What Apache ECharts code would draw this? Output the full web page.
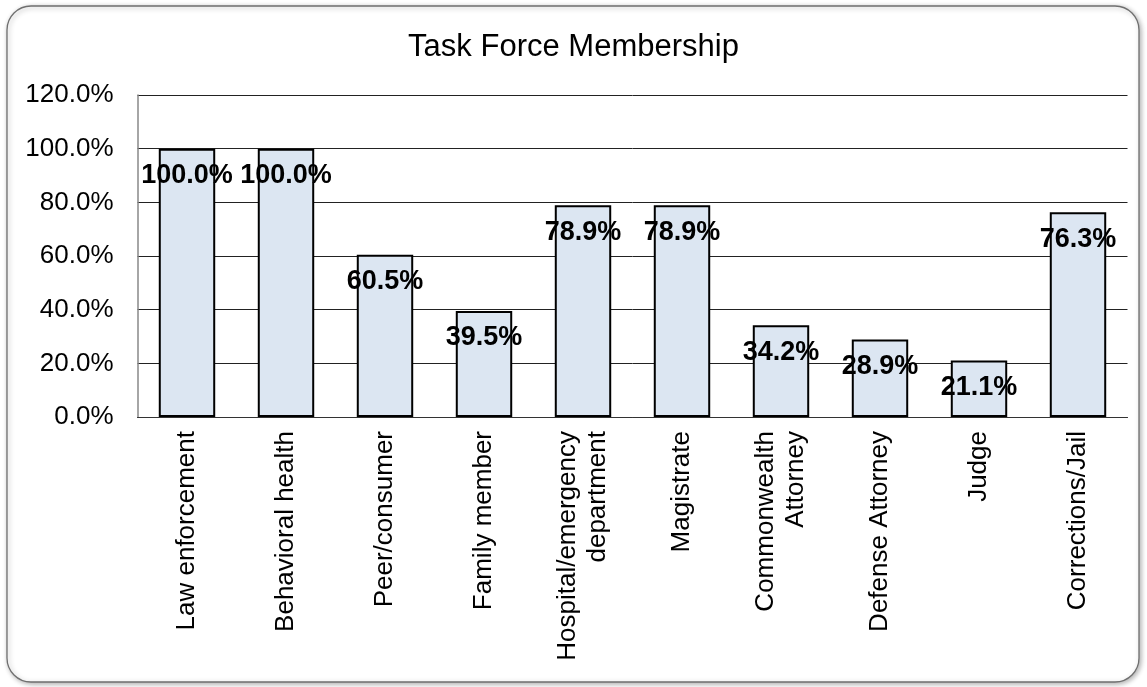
<!DOCTYPE html>
<html>
<head>
<meta charset="utf-8">
<script src="https://cdn.jsdelivr.net/npm/echarts@6/dist/echarts.min.js"></script>
<style>
html,body{margin:0;padding:0;background:#fff;}
#c{width:1147px;height:687px;}
</style>
</head>
<body>
<div id="c"></div>
<script>
const titleText = 'Task Force Membership';
const categories = ['Law enforcement','Behavioral health','Peer/consumer','Family member','Hospital/emergency\ndepartment','Magistrate','Commonwealth\nAttorney','Defense Attorney','Judge','Corrections/Jail'];
const values = [100.0, 100.0, 60.5, 39.5, 78.9, 78.9, 34.2, 28.9, 21.1, 76.3];
const yTicks = [0, 20, 40, 60, 80, 100, 120];

const chart = echarts.init(document.getElementById('c'), null, {renderer:'canvas'});
const font = '"Liberation Sans", Arial, sans-serif';
chart.setOption({
  backgroundColor:'#fff',
  animation:false,
  textStyle:{fontFamily:font},
  graphic:[{
    type:'rect', silent:true, z:-10,
    shape:{x:7, y:6, width:1132, height:676, r:24},
    style:{fill:'#fff', stroke:'#6f6f6f', lineWidth:1.3, shadowBlur:5, shadowColor:'rgba(0,0,0,0.3)', shadowOffsetX:1.5, shadowOffsetY:1.5}
  }],
  title:{text:titleText, left:'center', top:27, textStyle:{fontFamily:font, fontSize:31, fontWeight:'normal', color:'#000'}},
  grid:{left:137.5, right:19.5, top:95, bottom:270, containLabel:false},
  xAxis:{
    type:'category', data:categories,
    axisLine:{show:true, lineStyle:{color:'#333', width:1}},
    axisTick:{show:false},
    axisLabel:{rotate:90, interval:0, margin:14, fontFamily:font, fontSize:26, color:'#000', lineHeight:30}
  },
  yAxis:{
    type:'value', min:yTicks[0], max:yTicks[yTicks.length-1], interval:20,
    axisLine:{show:true, lineStyle:{color:'#888', width:1.5}},
    axisTick:{show:false},
    splitLine:{show:true, lineStyle:{color:'#222', width:1}},
    axisLabel:{margin:24, fontFamily:font, fontSize:26, color:'#000', formatter:v=>v.toFixed(1)+'%'}
  },
  series:[{
    type:'bar', data:values, barWidth:'57%',
    itemStyle:{color:'#dce6f2', borderColor:'#000', borderWidth:2},
    label:{show:true, position:['50%',27], align:'center', verticalAlign:'middle', fontFamily:font, fontSize:27, fontWeight:'bold', color:'#000', formatter:p=>p.value.toFixed(1)+'%'}
  }]
});
</script>
</body>
</html>
